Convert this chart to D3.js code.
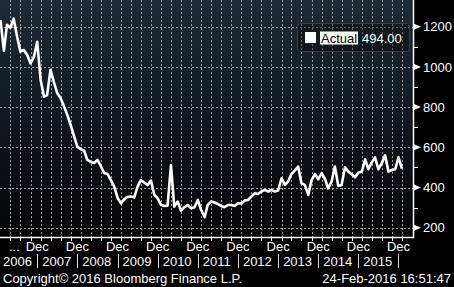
<!DOCTYPE html>
<html>
<head>
<meta charset="utf-8">
<script src="https://cdn.jsdelivr.net/npm/d3@7"></script>
<style>
  body { margin: 0; background: #000; }
  svg { display: block; font-family: "Liberation Sans", Arial, sans-serif; }
</style>
</head>
<body>
<div id="chart"></div>
<script>
// monthly values (thousands)
const sales2006 = [1233, 1080, 1210, 1195, 1240, 1150, 1076, 1084, 1059, 1018, 1050, 1125];
const sales2007 = [935, 852, 860, 985, 926, 870, 845, 805, 761, 711, 655, 603];
const sales2008 = [591, 583, 537, 527, 522, 537, 507, 472, 467, 437, 404, 348];
const sales2009 = [321, 342, 353, 355, 350, 404, 437, 424, 413, 434, 363, 346];
const sales2010 = [313, 308, 310, 512, 305, 330, 285, 302, 313, 297, 302, 338];
const sales2011 = [288, 252, 313, 330, 325, 318, 308, 302, 313, 313, 308, 321];
const sales2012 = [321, 335, 338, 355, 371, 368, 380, 388, 380, 388, 380, 385];
const sales2013 = [446, 413, 429, 467, 484, 504, 421, 413, 363, 437, 467, 441];
const sales2014 = [471, 441, 396, 429, 504, 408, 413, 500, 479, 466, 451, 474];
const sales2015 = [479, 540, 491, 524, 550, 491, 520, 560, 479, 487, 491, 550];
const sales2016 = [494];

const years = [2006, 2007, 2008, 2009, 2010, 2011, 2012, 2013, 2014, 2015];
const yTicks = [200, 400, 600, 800, 1000, 1200];
const yMinor = [300, 500, 700, 900, 1100];
const seriesName = "Actual";
const lastValue = "494.00";
const copyright = "Copyright\u00A9 2016 Bloomberg Finance L.P.";
const stamp = "24-Feb-2016 16:51:47";

const allYears = [sales2006, sales2007, sales2008, sales2009, sales2010, sales2011,
                  sales2012, sales2013, sales2014, sales2015, sales2016];
const data = [];
allYears.forEach((arr, yi) => {
  arr.forEach((v, m) => data.push({ date: new Date(2006 + yi, m, 1), value: v }));
});

const W = 454, H = 287;
const plotW = 413, plotH = 237;

const svg = d3.select("#chart").append("svg")
  .attr("width", W)
  .attr("height", H);

const defs = svg.append("defs");
const grad = defs.append("linearGradient")
  .attr("id", "bg")
  .attr("x1", 0).attr("y1", 0).attr("x2", 0).attr("y2", 1);
grad.append("stop").attr("offset", "0%").attr("stop-color", "#1f2b36");
grad.append("stop").attr("offset", "55%").attr("stop-color", "#10161d");
grad.append("stop").attr("offset", "100%").attr("stop-color", "#040404");

svg.append("rect").attr("width", W).attr("height", H).attr("fill", "#000");
svg.append("rect").attr("width", plotW).attr("height", plotH).attr("fill", "url(#bg)");

const x = d3.scaleTime()
  .domain([new Date(2006, 0, 1), new Date(2016, 0, 1)])
  .range([0.5, 401.9]);

const y = d3.scaleLinear()
  .domain([200, 1200])
  .range([227.7, 26.7]);

// quarterly grid (Mar, Jun, Sep, Dec)
const quarters = d3.timeMonth.every(3).range(new Date(2006, 2, 1), new Date(2016, 1, 1));

svg.append("g")
  .selectAll("line")
  .data(quarters)
  .enter()
  .append("line")
  .attr("x1", d => Math.round(x(d)) + 0.5)
  .attr("x2", d => Math.round(x(d)) + 0.5)
  .attr("y1", 0)
  .attr("y2", plotH)
  .attr("stroke", "#9a9ea3")
  .attr("stroke-width", 1)
  .attr("stroke-dasharray", "2,2");

svg.append("g")
  .selectAll("line")
  .data(yTicks)
  .enter()
  .append("line")
  .attr("x1", 0)
  .attr("x2", plotW)
  .attr("y1", d => Math.round(y(d)) + 0.5)
  .attr("y2", d => Math.round(y(d)) + 0.5)
  .attr("stroke", "#9a9ea3")
  .attr("stroke-width", 1)
  .attr("stroke-dasharray", "2,2");

// the series
const line = d3.line()
  .x(d => x(d.date))
  .y(d => y(d.value));

svg.append("path")
  .datum(data)
  .attr("d", line)
  .attr("fill", "none")
  .attr("stroke", "#fff")
  .attr("stroke-width", 2.6)
  .attr("stroke-linejoin", "round");

// axis lines
svg.append("line")
  .attr("x1", plotW + 0.5).attr("x2", plotW + 0.5)
  .attr("y1", 0).attr("y2", plotH + 1)
  .attr("stroke", "#fff").attr("stroke-width", 1.5);
svg.append("line")
  .attr("x1", 0).attr("x2", plotW + 1)
  .attr("y1", plotH + 0.5).attr("y2", plotH + 0.5)
  .attr("stroke", "#fff").attr("stroke-width", 1.5);

// y axis: arrows, minor ticks, labels
svg.append("g")
  .selectAll("path")
  .data(yTicks)
  .enter()
  .append("path")
  .attr("d", d => {
    const ty = y(d);
    return "M" + (plotW + 1) + "," + (ty - 3) + "L" + (plotW + 8) + "," + ty + "L" + (plotW + 1) + "," + (ty + 3) + "Z";
  })
  .attr("fill", "#fff");

svg.append("g")
  .selectAll("line")
  .data(yMinor)
  .enter()
  .append("line")
  .attr("x1", plotW)
  .attr("x2", plotW + 5)
  .attr("y1", d => Math.round(y(d)) + 0.5)
  .attr("y2", d => Math.round(y(d)) + 0.5)
  .attr("stroke", "#fff");

svg.append("g")
  .selectAll("text")
  .data(yTicks)
  .enter()
  .append("text")
  .attr("x", plotW + 10)
  .attr("y", d => y(d))
  .attr("dy", "0.36em")
  .attr("fill", "#fff")
  .style("font-size", "13px")
  .text(d => d);

// x axis: quarter ticks, Dec labels, years
svg.append("g")
  .selectAll("line")
  .data(quarters)
  .enter()
  .append("line")
  .attr("x1", d => Math.round(x(d)) + 0.5)
  .attr("x2", d => Math.round(x(d)) + 0.5)
  .attr("y1", plotH)
  .attr("y2", plotH + 4)
  .attr("stroke", "#fff");

const decs = years.map(yr => new Date(yr, 11, 1));

svg.append("g")
  .selectAll("text")
  .data(decs)
  .enter()
  .append("text")
  .attr("x", d => x(d))
  .attr("y", 250.5)
  .attr("text-anchor", "middle")
  .attr("fill", "#fff")
  .style("font-size", "13px")
  .text("Dec");

svg.append("text")
  .attr("x", 9)
  .attr("y", 250.5)
  .attr("fill", "#fff")
  .style("font-size", "13px")
  .text("...");

// year separators and labels
svg.append("g")
  .selectAll("line")
  .data(decs)
  .enter()
  .append("line")
  .attr("x1", d => Math.round(x(d)) + 0.5)
  .attr("x2", d => Math.round(x(d)) + 0.5)
  .attr("y1", 254)
  .attr("y2", 268)
  .attr("stroke", "#ddd");

svg.append("g")
  .selectAll("text")
  .data(years)
  .enter()
  .append("text")
  .attr("x", (d, i) => i === 0 ? 3 : x(new Date(d - 1, 11, 1)) + 5)
  .attr("y", 266)
  .attr("fill", "#fff")
  .style("font-size", "13px")
  .text(d => d);

// footer
svg.append("text")
  .attr("x", 3)
  .attr("y", 283)
  .attr("fill", "#fff")
  .style("font-size", "13px")
  .text(copyright);

svg.append("text")
  .attr("x", 451)
  .attr("y", 283)
  .attr("text-anchor", "end")
  .attr("fill", "#fff")
  .style("font-size", "13px")
  .text(stamp);

// legend
const legend = svg.append("g").attr("class", "legend");
legend.append("rect")
  .attr("x", 297.5).attr("y", 23.5)
  .attr("width", 112).attr("height", 28)
  .attr("rx", 3).attr("ry", 3)
  .attr("fill", "rgba(0,0,0,0.35)")
  .attr("stroke", "#3c3f42");
legend.append("rect")
  .attr("x", 305).attr("y", 32)
  .attr("width", 11).attr("height", 11)
  .attr("fill", "#fff");
legend.append("rect")
  .attr("x", 320).attr("y", 31.5)
  .attr("width", 38).attr("height", 13)
  .attr("fill", "#fff");
legend.append("text")
  .attr("x", 321)
  .attr("y", 38)
  .attr("dy", "0.36em")
  .attr("fill", "#000")
  .style("font-size", "13px")
  .text(seriesName);
legend.append("text")
  .attr("x", 362)
  .attr("y", 38)
  .attr("dy", "0.36em")
  .attr("fill", "#fff")
  .style("font-size", "13px")
  .text(lastValue);
</script>
</body>
</html>
